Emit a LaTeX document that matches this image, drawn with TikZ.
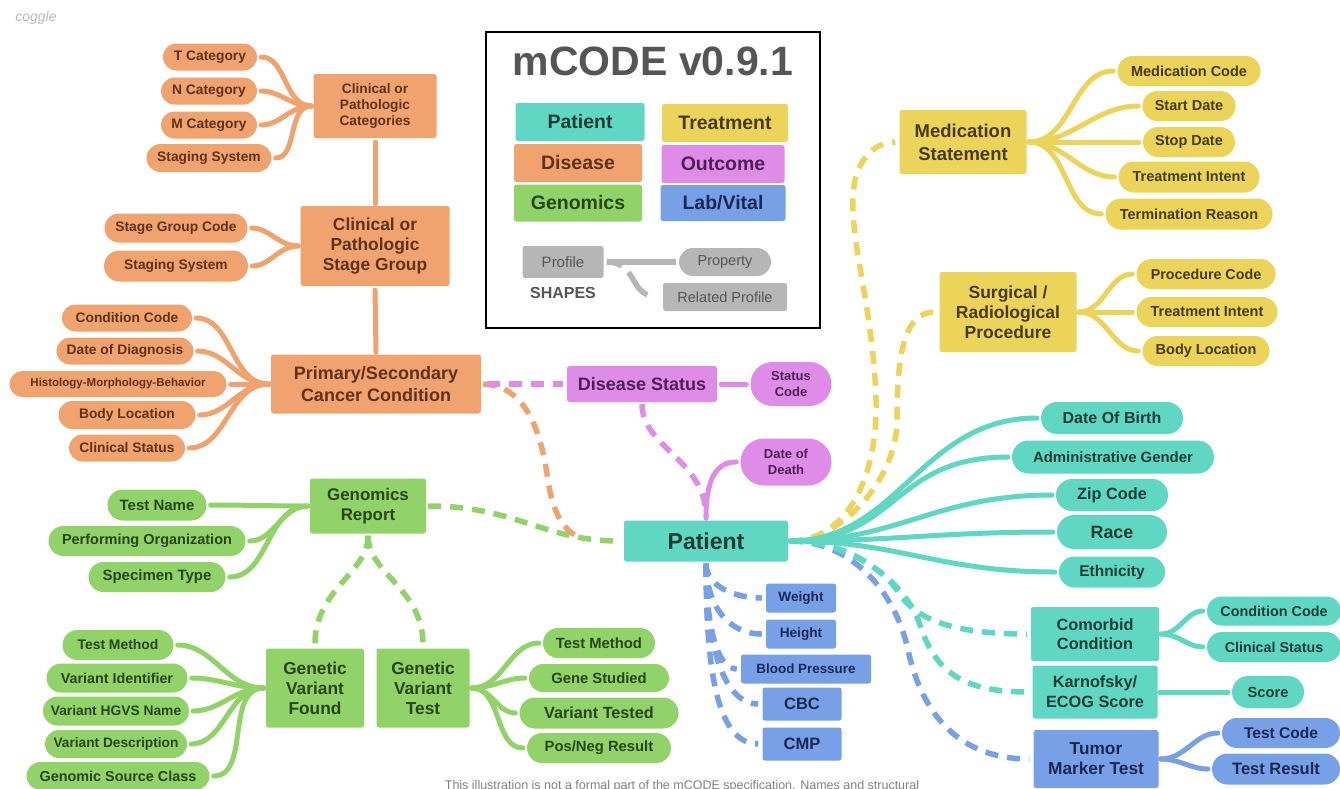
\documentclass[tikz,border=0pt]{standalone}
\usepackage{fontspec}
\setmainfont{Liberation Sans}
\usetikzlibrary{shapes.misc}
\pgfdeclarelayer{paper}\pgfdeclarelayer{bg}
\pgfsetlayers{paper,bg,main}
\definecolor{oF}{RGB}{240,163,110}  \definecolor{oT}{RGB}{95,50,25}
\definecolor{tF}{RGB}{95,215,194}   \definecolor{tT}{RGB}{25,60,55}
\definecolor{gF}{RGB}{145,210,105}  \definecolor{gT}{RGB}{40,70,25}
\definecolor{yF}{RGB}{236,211,90}   \definecolor{yT}{RGB}{70,58,15}
\definecolor{pF}{RGB}{222,140,232}  \definecolor{pT}{RGB}{80,30,85}
\definecolor{bF}{RGB}{120,160,230}  \definecolor{bT}{RGB}{25,40,85}
\definecolor{gyF}{RGB}{182,182,182} \definecolor{gyT}{RGB}{85,85,85}
\begin{document}
\begin{tikzpicture}[x=1pt,y=-1pt,
  box/.style={rounded corners=2.5pt, inner sep=0pt, align=center},
  pill/.style={rounded rectangle, inner sep=0pt, align=center},
  sz/.style 2 args={minimum width=#1, minimum height=#2},
  fs/.style 2 args={font=\bfseries\fontsize{#1}{#2}\selectfont},
  ob/.style={fill=oF, text=oT}, tb/.style={fill=tF, text=tT},
  gb/.style={fill=gF, text=gT}, yb/.style={fill=yF, text=yT},
  pb/.style={fill=pF, text=pT}, bb/.style={fill=bF, text=bT},
  gyb/.style={fill=gyF, text=gyT},
  brs/.style={line width=5pt, line cap=round, shorten <=2pt, shorten >=4pt},
  brd/.style={line width=5.5pt, dash pattern=on 13pt off 9pt, shorten <=2pt, shorten >=4pt}
]
\useasboundingbox (0,0) rectangle (1340,788);
\begin{pgfonlayer}{paper}
\fill[white] (0,0) rectangle (1340,788);
\end{pgfonlayer}

\node[text=gray!55, font=\itshape\fontsize{14}{14}\selectfont] (logo) at (36,18) {coggle};

% ---------------- Orange (Disease) ----------------
\node[pill,ob,sz={94}{27},fs={13.8}{16}] (tcat) at (210,57) {T Category};
\node[pill,ob,sz={96}{27},fs={13.8}{16}] (ncat) at (209,91) {N Category};
\node[pill,ob,sz={96}{27},fs={13.8}{16}] (mcat) at (209,125) {M Category};
\node[pill,ob,sz={125}{28},fs={13.8}{16}] (ss1) at (209,158) {Staging System};
\node[box,ob,sz={123}{64},fs={13.7}{16}] (cat) at (375,106) {Clinical or\\Pathologic\\Categories};
\node[box,ob,sz={149}{80},fs={17.4}{20}] (sg) at (375,246) {Clinical or\\Pathologic\\Stage Group};
\node[pill,ob,sz={143}{29},fs={13.8}{16}] (sgc) at (176,228) {Stage Group Code};
\node[pill,ob,sz={144}{31},fs={13.8}{16}] (ss2) at (176,266) {Staging System};
\node[box,ob,sz={210}{59},fs={18}{22}] (cc) at (376,384) {Primary/Secondary\\Cancer Condition};
\node[pill,ob,sz={130}{27},fs={13.8}{16}] (ccode) at (127,318) {Condition Code};
\node[pill,ob,sz={137}{27},fs={13.8}{16}] (dodg) at (125,351) {Date of Diagnosis};
\node[pill,ob,sz={217}{26},fs={11.5}{14}] (hist) at (118,384) {Histology-Morphology-Behavior};
\node[pill,ob,sz={137}{28},fs={13.8}{16}] (bloc1) at (127,415) {Body Location};
\node[pill,ob,sz={116}{27},fs={13.8}{16}] (cstat) at (127,448) {Clinical Status};

% ---------------- Legend ----------------
\node[draw=black, line width=2.5pt, sz={334}{296}] (legend) at (653,180) {};
\node[text=gyT, fs={41}{41}] (title) at (653,61) {mCODE v0.9.1};
\node[box,tb,sz={129}{38},fs={19.5}{20}] (lpat) at (580,122) {Patient};
\node[box,yb,sz={126}{38},fs={19.5}{20}] (ltr) at (725,123) {Treatment};
\node[box,ob,sz={128}{38},fs={19.5}{20}] (ldis) at (578,163) {Disease};
\node[box,pb,sz={123}{38},fs={19.5}{20}] (lout) at (723,164) {Outcome};
\node[box,gb,sz={128}{37},fs={19.5}{20}] (lgen) at (578,203) {Genomics};
\node[box,bb,sz={125}{36},fs={19.5}{20}] (llab) at (723,203) {Lab/Vital};
\node[box,gyb,sz={81}{32},font=\fontsize{15}{15}\selectfont] (lprof) at (563,262) {Profile};
\node[text=gyT, fs={16}{16}] (lshapes) at (563,293) {SHAPES};
\node[pill,gyb,sz={92}{28},font=\fontsize{14.5}{15}\selectfont] (lprop) at (725,262) {Property};
\node[box,gyb,sz={124}{28},font=\fontsize{14.5}{15}\selectfont] (lrel) at (725,297) {Related Profile};

% ---------------- Pink (Outcome) ----------------
\node[box,pb,sz={150}{36},fs={18}{20}] (ds) at (642,384) {Disease Status};
\node[pill,pb,sz={81}{44},fs={13}{16}] (stc) at (791,384) {Status\\Code};
\node[pill,pb,sz={91}{47},fs={13}{16}] (dth) at (786,462) {Date of\\Death};

% ---------------- Teal (Patient) ----------------
\node[box,tb,sz={164}{41},fs={23}{24}] (pat) at (706,541) {Patient};
\node[pill,tb,sz={142}{32},fs={16}{17}] (dob) at (1112,418) {Date Of Birth};
\node[pill,tb,sz={202}{33},fs={14.9}{16}] (gen) at (1113,457) {Administrative Gender};
\node[pill,tb,sz={112}{32},fs={16.3}{17}] (zip) at (1112,495) {Zip Code};
\node[pill,tb,sz={110}{34},fs={17.9}{18}] (race) at (1112,532) {Race};
\node[pill,tb,sz={106}{31},fs={15.5}{16}] (eth) at (1112,572) {Ethnicity};
\node[box,tb,sz={128}{54},fs={16.3}{19}] (com) at (1095,634) {Comorbid\\Condition};
\node[pill,tb,sz={134}{29},fs={14.4}{16}] (tcc) at (1274,611) {Condition Code};
\node[pill,tb,sz={134}{30},fs={14.3}{16}] (tcs) at (1274,647) {Clinical Status};
\node[box,tb,sz={125}{53},fs={16.3}{20}] (karn) at (1095,692) {Karnofsky/\\ECOG Score};
\node[pill,tb,sz={72}{32},fs={14.7}{16}] (score) at (1268,692) {Score};

% ---------------- Blue (Lab/Vital) ----------------
\node[box,bb,sz={70}{29},fs={13.6}{16}] (wt) at (801,598) {Weight};
\node[box,bb,sz={70}{29},fs={13.6}{16}] (ht) at (801,634) {Height};
\node[box,bb,sz={130}{29},fs={13.4}{16}] (bp) at (806,669) {Blood Pressure};
\node[box,bb,sz={79}{33},fs={16.5}{17}] (cbc) at (802,704) {CBC};
\node[box,bb,sz={79}{33},fs={16.5}{17}] (cmp) at (802,744) {CMP};
\node[box,bb,sz={125}{58},fs={17.3}{20}] (tum) at (1096,759) {Tumor\\Marker Test};
\node[pill,bb,sz={118}{30},fs={15.5}{16}] (tcode) at (1281,733) {Test Code};
\node[pill,bb,sz={128}{31},fs={16.5}{17}] (tres) at (1276,769) {Test Result};

% ---------------- Yellow (Treatment) ----------------
\node[box,yb,sz={127}{64},fs={18.5}{23}] (ms) at (963,142) {Medication\\Statement};
\node[pill,yb,sz={143}{30},fs={14.5}{16}] (mc) at (1189,71) {Medication Code};
\node[pill,yb,sz={93}{30},fs={14.5}{16}] (sd) at (1189,106) {Start Date};
\node[pill,yb,sz={92}{30},fs={14.5}{16}] (spd) at (1189,142) {Stop Date};
\node[pill,yb,sz={141}{31},fs={14.5}{16}] (ti1) at (1189,177) {Treatment Intent};
\node[pill,yb,sz={167}{31},fs={14.5}{16}] (tr) at (1189,214) {Termination Reason};
\node[box,yb,sz={137}{80},fs={17.5}{20}] (srp) at (1008,312) {Surgical /\\Radiological\\Procedure};
\node[pill,yb,sz={139}{30},fs={14.3}{16}] (pc) at (1206,274) {Procedure Code};
\node[pill,yb,sz={141}{30},fs={14.5}{16}] (ti2) at (1207,312) {Treatment Intent};
\node[pill,yb,sz={127}{30},fs={14.5}{16}] (bl2) at (1206,351) {Body Location};

% ---------------- Green (Genomics) ----------------
\node[box,gb,sz={116}{55},fs={16.9}{20}] (gr) at (368,506) {Genomics\\Report};
\node[pill,gb,sz={99}{31},fs={15}{16}] (tn) at (157,505) {Test Name};
\node[pill,gb,sz={197}{30},fs={14.5}{16}] (po) at (147,541) {Performing Organization};
\node[pill,gb,sz={137}{30},fs={15}{16}] (st) at (157,577) {Specimen Type};
\node[box,gb,sz={98}{79},fs={17.3}{20}] (gvf) at (315,688) {Genetic\\Variant\\Found};
\node[box,gb,sz={93}{79},fs={17.3}{20}] (gvt) at (423,688) {Genetic\\Variant\\Test};
\node[pill,gb,sz={111}{30},fs={13.9}{16}] (tm1) at (118,645) {Test Method};
\node[pill,gb,sz={141}{29},fs={14.3}{16}] (vi) at (117,678) {Variant Identifier};
\node[pill,gb,sz={146}{29},fs={13.8}{16}] (vh) at (116,711) {Variant HGVS Name};
\node[pill,gb,sz={142}{28},fs={13.7}{16}] (vd) at (116,744) {Variant Description};
\node[pill,gb,sz={183}{28},fs={14.4}{16}] (gsc) at (118,776) {Genomic Source Class};
\node[pill,gb,sz={112}{30},fs={14.8}{16}] (tm2) at (599,643) {Test Method};
\node[pill,gb,sz={140}{28},fs={14.8}{16}] (gs) at (599,678) {Gene Studied};
\node[pill,gb,sz={159}{31},fs={16.2}{17}] (vt) at (599,713) {Variant Tested};
\node[pill,gb,sz={144}{30},fs={14.8}{16}] (pn) at (599,748) {Pos/Neg Result};

\node[text=gray, font=\fontsize{12.5}{13}\selectfont, anchor=base] (note) at (682,789)
  {This illustration is not a formal part of the mCODE specification. Names and structural};

% ================= Connectors =================
\begin{pgfonlayer}{bg}
% legend shapes
\draw[line width=5.5pt, gyF, shorten <=3pt, shorten >=3pt] (lprof.east) -- (lprop.west);
\draw[line width=5.5pt, gyF, dash pattern=on 16pt off 9pt on 30pt off 30pt, shorten <=3pt, shorten >=4pt]
  (lprof.east) .. controls +(35,0) and +(-35,0) .. (lrel.west);
% orange
\foreach \c in {tcat,ncat,mcat,ss1} \draw[brs,oF] (cat.west) to[out=180,in=0] (\c.east);
\draw[brs,oF] (sg.north) -- (cat.south);
\foreach \c in {sgc,ss2} \draw[brs,oF] (sg.west) to[out=180,in=0] (\c.east);
\draw[brs,oF] (cc.north) -- (sg.south);
\foreach \c in {ccode,dodg,hist,bloc1,cstat} \draw[brs,oF] (cc.west) to[out=180,in=0] (\c.east);
\coordinate (oend) at (584,539);
\draw[brd,oF] (cc.east) .. controls (530,386) and (542,440) .. (548,480)
   .. controls (553,515) and (565,532) .. (oend);
% pink
\draw[brd,pF,shorten <=6pt] (cc.east) -- (ds.west);
\draw[brs,pF,shorten <=4pt] (ds.east) -- (stc.west);
\draw[brd,pF] (ds.south) .. controls +(0,45) and +(0,-60) .. (pat.north);
\draw[brs,pF] (pat.north) .. controls +(0,-40) and +(-25,0) .. (dth.west);
% green
\foreach \c in {tn,po,st} \draw[brs,gF] (gr.west) to[out=180,in=0] (\c.east);
\draw[brd,gF] (gr.east) .. controls +(90,0) and +(-80,0) .. (pat.west);
\draw[brd,gF] (gr.south) .. controls +(0,40) and +(0,-60) .. (gvf.north);
\draw[brd,gF] (gr.south) .. controls +(0,40) and +(0,-60) .. (gvt.north);
\foreach \c in {tm1,vi,vh,vd,gsc} \draw[brs,gF] (gvf.west) to[out=180,in=0] (\c.east);
\foreach \c in {tm2,gs,vt,pn} \draw[brs,gF] (gvt.east) to[out=0,in=180] (\c.west);
% yellow (behind teal bundle)
\draw[brd,yF] (pat.east) .. controls (845,541) and (878,480) .. (876,400)
   .. controls (873,300) and (845,230) .. (855,180)
   .. controls (862,152) and (880,142) .. (ms.west);
\draw[brd,yF] (pat.east) .. controls (840,541) and (897,480) .. (897,420)
   .. controls (897,350) and (905,312) .. (srp.west);
\foreach \c in {mc,sd,spd,ti1,tr} \draw[brs,yF] (ms.east) to[out=0,in=180] (\c.west);
\foreach \c in {pc,ti2,bl2} \draw[brs,yF] (srp.east) to[out=0,in=180] (\c.west);
% blue
\draw[brd,bF] (pat.east) .. controls (850,541) and (895,590) .. (908,650)
   .. controls (922,715) and (960,759) .. (tum.west);
\foreach \c in {tcode,tres} \draw[brs,bF] (tum.east) to[out=0,in=180] (\c.west);
\draw[brd,bF] (pat.south) .. controls +(0,25) and +(-30,0) .. (wt.west);
\draw[brd,bF] (pat.south) .. controls +(0,40) and +(-40,0) .. (ht.west);
\draw[brd,bF] (pat.south) .. controls +(0,60) and +(-25,0) .. (bp.west);
\draw[brd,bF] (pat.south) .. controls +(0,80) and +(-40,0) .. (cbc.west);
\draw[brd,bF] (pat.south) .. controls +(0,110) and +(-45,0) .. (cmp.west);
% teal
\draw[brd,tF] (pat.east) .. controls (840,541) and (880,565) .. (899,593)
   .. controls (915,618) and (950,634) .. (com.west);
\draw[brd,tF] (pat.east) .. controls (850,541) and (905,580) .. (920,625)
   .. controls (935,670) and (960,692) .. (karn.west);
\foreach \c in {dob,gen,zip,race,eth} \draw[brs,tF] (pat.east) .. controls +(110,0) and +(-120,0) .. (\c.west);
\foreach \c in {tcc,tcs} \draw[brs,tF] (com.east) to[out=0,in=180] (\c.west);
\draw[brs,tF] (karn.east) -- (score.west);
\end{pgfonlayer}
\end{tikzpicture}
\end{document}
